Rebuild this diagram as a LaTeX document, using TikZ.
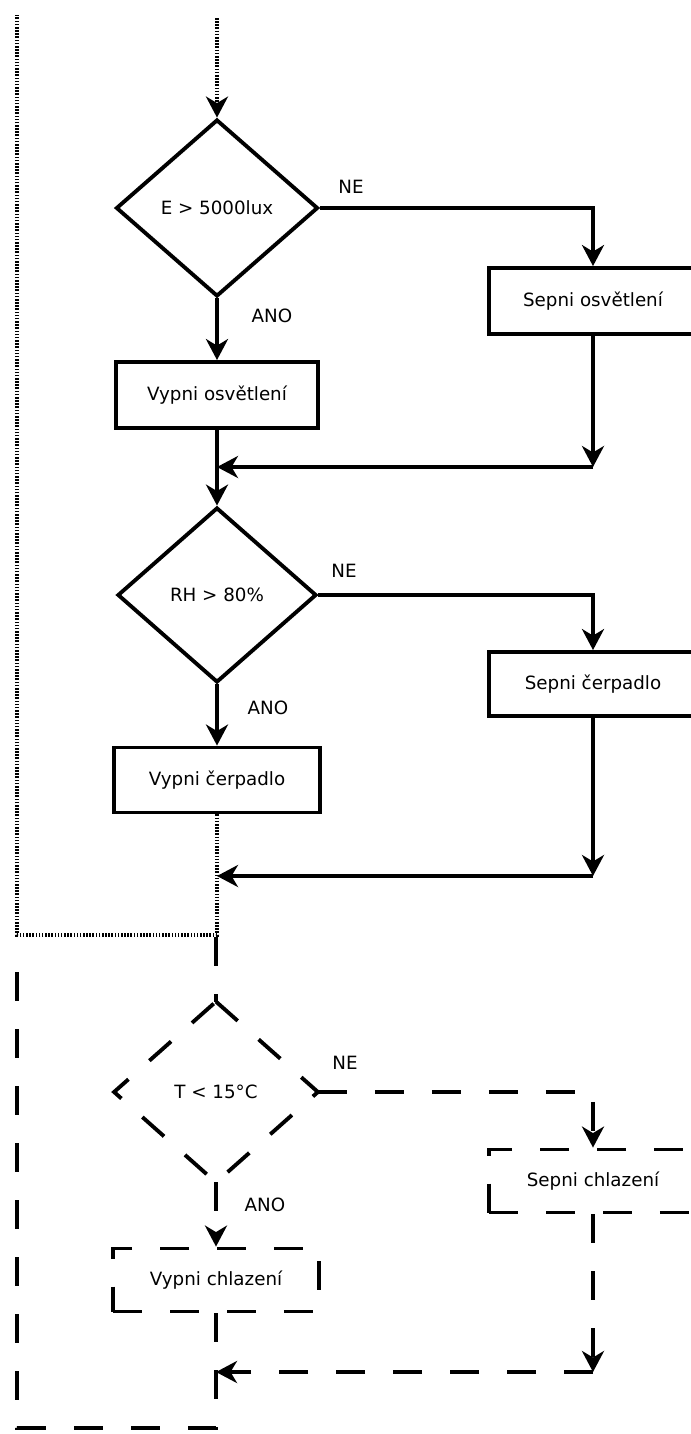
\documentclass[tikz,border=0pt]{standalone}
\usepackage{fontspec}
\setmainfont{DejaVu Sans}
\usetikzlibrary{arrows.meta,shapes.geometric,positioning}

\tikzset{
  txt/.style={font=\fontsize{10.4}{12}\selectfont},
  flow/.style={line width=2.2pt, -{Stealth[length=0.42cm,width=0.44cm,inset=0.13cm]}},
  plain/.style={line width=2.2pt},
  decision/.style={diamond, draw, line width=2.2pt, inner sep=0pt, txt},
  process/.style={rectangle, draw, line width=2.2pt, minimum height=1.3cm, txt},
  loopdots/.style={line width=2pt, dash pattern=on 0.9pt off 0.9pt},
  coolpart/.style={dash pattern=on 0.58cm off 0.56cm},
  lbl/.style={txt}
}

\begin{document}
\begin{tikzpicture}[x=0.02cm, y=-0.02cm]
\useasboundingbox (0,0) rectangle (690,1434);

% --- osvetleni
\coordinate (start) at (217,18);
\node[decision, minimum width=4.04cm, minimum height=3.54cm] (lux) at (217,208) {E > 5000lux};
\node[process, minimum width=4.16cm, minimum height=1.32cm] (litOn) at (593,301) {Sepni osvětlení};
\node[process, minimum width=4.04cm, minimum height=1.32cm] (litOff) at (217,395) {Vypni osvětlení};
\coordinate (j1r) at (593,467);
\coordinate (j1) at (217,467);
\node[lbl] (ne1) at (351,187) {NE};
\node[lbl] (ano1) at (272,316) {ANO};

% --- cerpadlo
\node[decision, minimum width=3.98cm, minimum height=3.5cm] (hum) at (217,595) {RH > 80\%};
\node[process, minimum width=4.16cm, minimum height=1.28cm] (pumpOn) at (593,684) {Sepni čerpadlo};
\node[process, minimum width=4.12cm, minimum height=1.3cm] (pumpOff) at (217,780) {Vypni čerpadlo};
\coordinate (j2r) at (593,876);
\coordinate (j2) at (217,876);
\node[lbl] (ne2) at (344,571) {NE};
\node[lbl] (ano2) at (268,708) {ANO};

% --- chlazeni
\node[decision, draw=none, minimum width=4cm, minimum height=3.54cm] (temp) at (216,1092) {T < 15°C};
\draw[plain, coolpart] (temp.north) -- (temp.east) -- (temp.south) -- (temp.west) -- cycle;
\node[process, coolpart, minimum width=4.16cm, minimum height=1.26cm] (coolOn) at (593,1181) {Sepni chlazení};
\node[process, coolpart, minimum width=4.12cm, minimum height=1.26cm] (coolOff) at (216,1280) {Vypni chlazení};
\coordinate (j3r) at (593,1372);
\coordinate (j3) at (216,1372);
\node[lbl] (ne3) at (345,1063) {NE};
\node[lbl] (ano3) at (265,1205) {ANO};

% --- smycka
\coordinate (split) at (217,935);
\coordinate (splitB) at (216,937);
\coordinate (loopB) at (17,935);
\coordinate (loopA) at (17,15);
\coordinate (end) at (216,1428);
\coordinate (endL) at (17,1428);
\coordinate (dashTop) at (17,948);

\draw[loopdots, flow] (start) -- (lux.north);
\draw[flow] (lux.east) -| (litOn.north);
\draw[flow] (lux.south) -- (litOff.north);
\draw[flow] (litOn.south) -- (j1r);
\draw[flow] (j1r) -- (j1);
\draw[flow] (litOff.south) -- (hum.north);
\draw[flow] (hum.east) -| (pumpOn.north);
\draw[flow] (hum.south) -- (pumpOff.north);
\draw[flow] (pumpOn.south) -- (j2r);
\draw[flow] (j2r) -- (j2);
\draw[loopdots] (pumpOff.south) -- (split) -- (loopB) -- (loopA);

\draw[plain, coolpart] (splitB) -- (temp.north);
\draw[flow, coolpart] (temp.east) -| (coolOn.north);
\draw[flow, coolpart] (temp.south) -- (coolOff.north);
\draw[flow, coolpart] (coolOn.south) -- (j3r);
\draw[flow, coolpart] (j3r) -- (j3);
\draw[plain, coolpart] (coolOff.south) -- (end) -- (endL) -- (dashTop);
\end{tikzpicture}
\end{document}
